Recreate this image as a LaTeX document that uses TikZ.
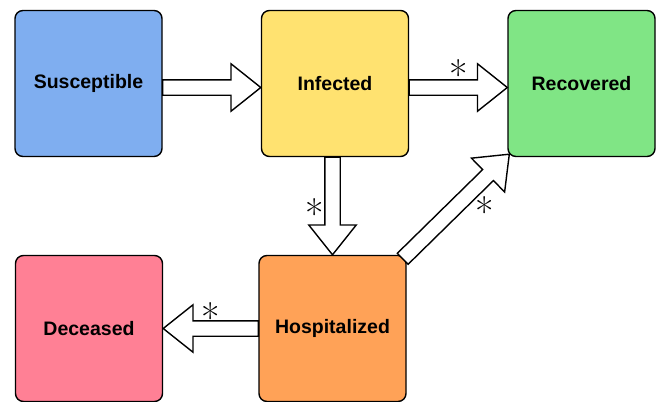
\documentclass[tikz,border=0pt]{standalone}
\usepackage{fontspec}
\setsansfont{Liberation Sans}
\usepackage{xcolor}
\usetikzlibrary{shapes.arrows, positioning, calc}

\definecolor{susblue}{HTML}{7FAEF0}
\definecolor{infyellow}{HTML}{FFE270}
\definecolor{recgreen}{HTML}{80E585}
\definecolor{decpink}{HTML}{FF8095}
\definecolor{hosporange}{HTML}{FFA257}

% hollow arrow between two points
\newcommand{\fatarrow}[3]{%
    \path let \p1=(#2), \p2=(#3),
        \n1={veclen(\x2-\x1,\y2-\y1)}, \n2={atan2(\y2-\y1,\x2-\x1)} in
        node[fat, minimum height=\n1, rotate=\n2, anchor=tail] (#1) at (\p1) {};}

\begin{document}
\begin{tikzpicture}[x=1pt, y=-1pt,
        state/.style={rectangle, draw=black, line width=1.4pt, rounded corners=8pt, minimum width=147pt, minimum height=146pt, inner sep=0pt, font=\sffamily\bfseries\fontsize{19.5}{22}\selectfont},
        fat/.style={single arrow, draw=black, fill=white, line width=1.4pt, inner xsep=0pt, inner ysep=7pt, outer sep=0pt, text height=0pt, text depth=0pt, text width=0pt, minimum width=46pt, single arrow head extend=16pt, single arrow tip angle=77, single arrow head indent=0pt},
        startag/.style={font=\fontsize{40}{42}\selectfont, inner sep=0pt}
    ]
        \useasboundingbox (0,0) rectangle (657,402);

        % States
        \node[state, fill=susblue] (sus) at (88.5, 83.5) {Susceptible};
        \node[state, fill=infyellow] (inf) at (335, 83.5) {Infected};
        \node[state, fill=recgreen] (rec) at (581.5, 83.5) {Recovered};
        \node[state, fill=decpink] (dec) at (89, 328.5) {Deceased};
        \node[state, fill=hosporange] (hosp) at (332.5, 328.5) {Hospitalized};

        % Transitions
        \fatarrow{a1}{$(sus.east)+(0,4)$}{$(inf.west)+(0,4)$}
        \fatarrow{a2}{$(inf.east)+(0,4)$}{$(rec.west)+(0,4)$}
        \fatarrow{a3}{hosp.north |- inf.south}{hosp.north}
        \fatarrow{a4}{$(hosp.north east)+(-4,4)$}{$(rec.south west)+(2,-3)$}
        \fatarrow{a5}{hosp.west}{dec.east}

        % Labels
        \node[startag] at ($(inf.east)!0.5!(rec.west)+(0,-9)$) {*};
        \node[startag] at ($(inf.south)!0.5!(hosp.north)+(-19,7.5)$) {*};
        \node[startag] at ($(hosp.north east)!0.5!(rec.south west)+(27.5,5.5)$) {*};
        \node[startag] at ($(hosp.west)!0.5!(dec.east)+(0,-11)$) {*};
    \end{tikzpicture}
\end{document}
